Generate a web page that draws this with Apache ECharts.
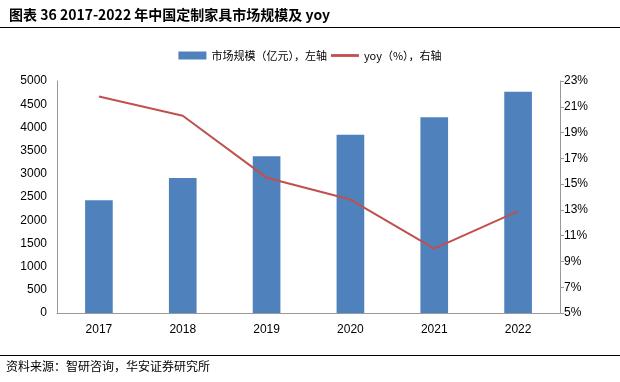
<!DOCTYPE html>
<html><head><meta charset="utf-8">
<script src="https://cdn.jsdelivr.net/npm/echarts@6/dist/echarts.min.js"></script>
<style>html,body{margin:0;padding:0;background:#fff}#c{width:620px;height:382px}</style>
</head><body><div id="c"></div>
<script>
const categories = ['2017','2018','2019','2020','2021','2022'];
const marketSize = [2430, 2910, 3380, 3840, 4220, 4770];
const yoy = [21.8, 20.3, 15.5, 13.8, 10.0, 12.9];
const leftTicks = {min: 0, max: 5000, interval: 500};
const rightTicks = {min: 5, max: 23, interval: 2};

const chart = echarts.init(document.getElementById('c'));
const latin = '"Liberation Sans", Arial, sans-serif';
const cjk = '"Noto Sans CJK SC", sans-serif';
chart.setOption({
  animation: false,
  textStyle: {fontFamily: latin},
  title: {
    text: '图表 36 2017-2022 年中国定制家具市场规模及 yoy',
    left: 4, top: 3,
    textStyle: {fontSize: 14, fontWeight: 'bold', color: '#000', fontFamily: cjk}
  },
  graphic: [
    {type: 'line', shape: {x1: 0, y1: 27.5, x2: 620, y2: 27.5}, style: {stroke: '#000', lineWidth: 1}},
    {type: 'line', shape: {x1: 0, y1: 355.5, x2: 620, y2: 355.5}, style: {stroke: '#000', lineWidth: 1}},
    {type: 'text', left: 6, top: 360, style: {text: '资料来源：智研咨询，华安证券研究所', fontSize: 12, fill: '#000', fontFamily: cjk}}
  ],
  legend: {
    top: 45, left: 'center',
    itemWidth: 28, itemHeight: 8, itemGap: 4,
    textStyle: {fontSize: 11, color: '#000', fontFamily: cjk},
    data: [
      {name: '市场规模（亿元），左轴', icon: 'rect'},
      {name: 'yoy（%），右轴', icon: 'path://M0,0 L10,0 L10,1 L0,1 Z'}
    ]
  },
  grid: {left: 57, right: 60, top: 81, bottom: 69},
  xAxis: {
    type: 'category', data: categories,
    axisLine: {lineStyle: {color: '#999'}},
    axisTick: {show: false},
    axisLabel: {color: '#000', fontSize: 12, margin: 11, fontFamily: latin}
  },
  yAxis: [
    {type: 'value', min: leftTicks.min, max: leftTicks.max, interval: leftTicks.interval,
     axisLine: {show: true, lineStyle: {color: '#999'}}, axisTick: {show: false},
     splitLine: {show: false},
     axisLabel: {color: '#000', fontSize: 12, margin: 10, fontFamily: latin, formatter: v => String(v)}},
    {type: 'value', min: rightTicks.min, max: rightTicks.max, interval: rightTicks.interval,
     position: 'right',
     axisLine: {show: true, lineStyle: {color: '#999'}},
     axisTick: {show: true, length: 4, lineStyle: {color: '#999'}},
     splitLine: {show: false},
     axisLabel: {color: '#000', fontSize: 12, margin: 4, fontFamily: latin, formatter: '{value}%'}}
  ],
  series: [
    {name: '市场规模（亿元），左轴', type: 'bar', data: marketSize, barWidth: '33%',
     itemStyle: {color: '#4F81BD'}},
    {name: 'yoy（%），右轴', type: 'line', yAxisIndex: 1, data: yoy, symbol: 'none',
     lineStyle: {color: '#C0504D', width: 2}, itemStyle: {color: '#C0504D'}}
  ]
});
</script></body></html>
